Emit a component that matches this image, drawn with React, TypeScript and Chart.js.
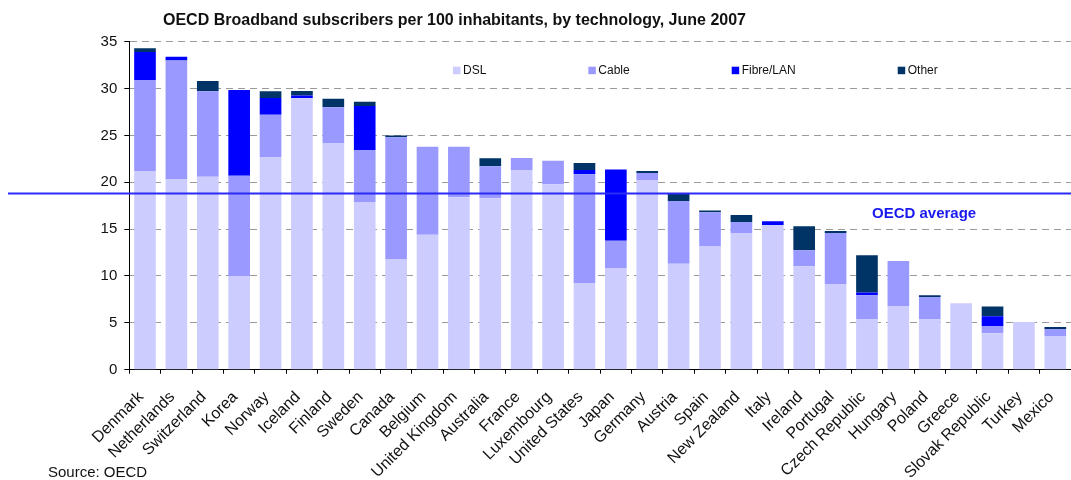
import React, { useEffect, useRef } from "react";
import { Chart, registerables } from "chart.js";

Chart.register(...registerables);

const countries = [
  "Denmark", "Netherlands", "Switzerland", "Korea", "Norway", "Iceland", "Finland", "Sweden",
  "Canada", "Belgium", "United Kingdom", "Australia", "France", "Luxembourg", "United States",
  "Japan", "Germany", "Austria", "Spain", "New Zealand", "Italy", "Ireland", "Portugal",
  "Czech Republic", "Hungary", "Poland", "Greece", "Slovak Republic", "Turkey", "Mexico",
];

const dsl = [21.2, 20.3, 20.6, 10.0, 22.7, 29.0, 24.2, 17.9, 11.8, 14.4, 18.4, 18.3, 21.3, 19.8, 9.25,
  10.85, 20.25, 11.3, 13.2, 14.6, 15.45, 11.05, 9.15, 5.4, 6.8, 5.4, 7.1, 3.9, 5.1, 3.6];
const cable = [9.7, 12.7, 9.1, 10.7, 4.5, 0, 3.8, 5.55, 13.0, 9.4, 5.4, 3.4, 1.3, 2.5, 11.6,
  2.9, 0.75, 6.7, 3.6, 1.15, 0, 1.7, 5.45, 2.55, 4.8, 2.35, 0, 0.75, 0, 0.75];
const fibre = [3.0, 0.4, 0, 9.15, 1.8, 0.25, 0, 4.7, 0, 0, 0, 0, 0, 0, 0.45,
  7.6, 0, 0, 0, 0, 0.4, 0, 0, 0.3, 0, 0, 0, 1.05, 0, 0];
const other = [0.4, 0, 1.1, 0, 0.7, 0.5, 0.9, 0.45, 0.2, 0, 0, 0.85, 0, 0, 0.75,
  0, 0.2, 0.85, 0.2, 0.75, 0, 2.55, 0.2, 3.95, 0, 0.2, 0, 1.05, 0, 0.2];

const oecdAverage = 18.8;
const yTicks = [0, 5, 10, 15, 20, 25, 30, 35];

const seriesNames = ["DSL", "Cable", "Fibre/LAN", "Other"];
const seriesColors = ["#CCCCFF", "#9999FF", "#0000FF", "#003366"];

const titleText = "OECD Broadband subscribers per 100 inhabitants, by technology, June 2007";
const sourceText = "Source: OECD";
const avgLabel = "OECD average";

const FONT = "'Liberation Sans', Arial, sans-serif";

export default function App() {
  const ref = useRef<HTMLCanvasElement | null>(null);

  useEffect(() => {
    document.body.style.margin = "0";
    const canvas = ref.current;
    if (!canvas) return;

    const overlay = {
      id: "overlay",
      afterDatasetsDraw(chart: any) {
        const ctx = chart.ctx;
        const y = chart.scales.y;
        const py = y.getPixelForValue(oecdAverage);
        ctx.save();
        ctx.strokeStyle = "#2B2BF5";
        ctx.lineWidth = 2;
        ctx.beginPath();
        ctx.moveTo(8, py);
        ctx.lineTo(chart.width, py);
        ctx.stroke();
        ctx.fillStyle = "#1A1AF0";
        ctx.font = `bold 15px ${FONT}`;
        ctx.textAlign = "left";
        ctx.textBaseline = "alphabetic";
        ctx.fillText(avgLabel, 872, py + 24);
        ctx.font = `12px ${FONT}`;
        ctx.textBaseline = "middle";
        let lx = 453;
        const ly = 70.5;
        seriesNames.forEach((n, i) => {
          ctx.fillStyle = seriesColors[i];
          ctx.fillRect(lx, ly - 3.8, 7.5, 7.5);
          ctx.fillStyle = "#111";
          ctx.fillText(n, lx + 10, ly);
          lx += 10 + ctx.measureText(n).width + 102;
        });
        ctx.fillStyle = "#111";
        ctx.textBaseline = "alphabetic";
        ctx.font = `bold 16px ${FONT}`;
        ctx.fillText(titleText, 163, 25);
        ctx.font = `15px ${FONT}`;
        ctx.fillText(sourceText, 48, 477);
        ctx.restore();
      },
    };

    const chart = new Chart(canvas, {
      type: "bar",
      data: {
        labels: countries,
        datasets: [dsl, cable, fibre, other].map((d, i) => ({
          label: seriesNames[i],
          data: d,
          backgroundColor: seriesColors[i],
          borderWidth: 0,
          barPercentage: 0.69,
          categoryPercentage: 1,
        })),
      },
      options: {
        animation: false,
        responsive: false,
        layout: { padding: { top: 41.7, right: 0, left: 0, bottom: 0 } },
        plugins: {
          legend: { display: false },
          title: { display: false },
          tooltip: { enabled: false },
        },
        scales: {
          x: {
            stacked: true,
            offset: true,
            afterFit: (s: any) => {
              s.height = 110.3;
              s.paddingRight = 0;
              s.paddingLeft = 0;
            },
            grid: {
              display: true,
              drawOnChartArea: false,
              drawTicks: true,
              tickLength: 4,
              tickColor: "#000",
              offset: true,
            },
            border: { display: true, color: "#000", width: 1 },
            ticks: {
              autoSkip: false,
              maxRotation: 45,
              minRotation: 45,
              color: "#111",
              padding: 14,
              labelOffset: -4,
              font: { family: FONT, size: 16 },
            },
          },
          y: {
            stacked: true,
            min: 0,
            max: 35,
            afterFit: (s: any) => { s.width = 129.3; },
            afterBuildTicks: (s: any) => { s.ticks = yTicks.map((v) => ({ value: v })); },
            grid: {
              color: "#9A9A9A",
              lineWidth: 1,
              drawTicks: true,
              tickLength: 5,
              tickColor: "#000",
              tickBorderDash: [],
            },
            border: { display: true, color: "#000", width: 1, dash: [7, 5] },
            ticks: {
              color: "#111",
              padding: 7,
              font: { family: FONT, size: 15 },
            },
          },
        },
      },
      plugins: [overlay],
    });
    return () => chart.destroy();
  }, []);

  return (
    <div style={{ position: "absolute", left: 0, top: 0, width: 1071, height: 480 }}>
      <canvas ref={ref} width={1071} height={480} style={{ width: 1071, height: 480 }} />
    </div>
  );
}
